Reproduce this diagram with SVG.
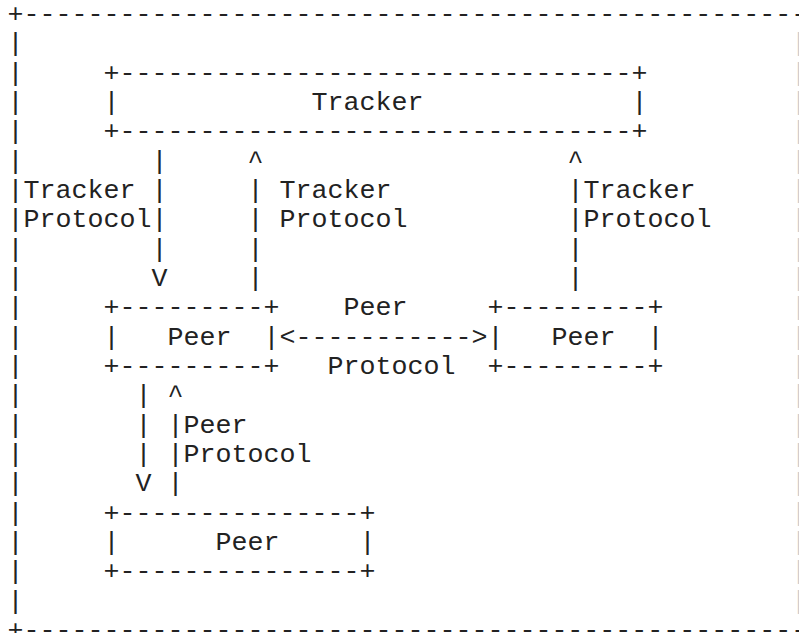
<svg xmlns="http://www.w3.org/2000/svg" width="799" height="633" viewBox="0 0 799 633">
<style>
text{font-family:"Liberation Mono","Courier New",monospace;font-size:26.667px;fill:#222;white-space:pre}
.edge{fill:#ccc}
</style>
<rect width="799" height="633" fill="#fff"/>
<g id="frame">
<text x="7.5" y="22">+-------------------------------------------------+</text>
<text x="7.5" y="638">+-------------------------------------------------+</text>
<text><tspan x="7.5" y="51.33">|</tspan><tspan x="7.5" y="80.67">|</tspan><tspan x="7.5" y="110">|</tspan><tspan x="7.5" y="139.33">|</tspan><tspan x="7.5" y="168.67">|</tspan><tspan x="7.5" y="198">|</tspan><tspan x="7.5" y="227.33">|</tspan><tspan x="7.5" y="256.67">|</tspan><tspan x="7.5" y="286">|</tspan><tspan x="7.5" y="315.33">|</tspan><tspan x="7.5" y="344.67">|</tspan><tspan x="7.5" y="374">|</tspan><tspan x="7.5" y="403.33">|</tspan><tspan x="7.5" y="432.67">|</tspan><tspan x="7.5" y="462">|</tspan><tspan x="7.5" y="491.33">|</tspan><tspan x="7.5" y="520.67">|</tspan><tspan x="7.5" y="550">|</tspan><tspan x="7.5" y="579.33">|</tspan><tspan x="7.5" y="608.67">|</tspan></text>
<text class="edge"><tspan x="791" y="51.33">|</tspan><tspan x="791" y="80.67">|</tspan><tspan x="791" y="110">|</tspan><tspan x="791" y="139.33">|</tspan><tspan x="791" y="168.67">|</tspan><tspan x="791" y="198">|</tspan><tspan x="791" y="227.33">|</tspan><tspan x="791" y="256.67">|</tspan><tspan x="791" y="286">|</tspan><tspan x="791" y="315.33">|</tspan><tspan x="791" y="344.67">|</tspan><tspan x="791" y="374">|</tspan><tspan x="791" y="403.33">|</tspan><tspan x="791" y="432.67">|</tspan><tspan x="791" y="462">|</tspan><tspan x="791" y="491.33">|</tspan><tspan x="791" y="520.67">|</tspan><tspan x="791" y="550">|</tspan><tspan x="791" y="579.33">|</tspan><tspan x="791" y="608.67">|</tspan></text>
</g>
<g id="tracker">
<text x="103.5" y="80.67">+--------------------------------+</text>
<text x="103.5" y="110">|</text>
<text x="311.5" y="110">Tracker</text>
<text x="631.5" y="110">|</text>
<text x="103.5" y="139.33">+--------------------------------+</text>
</g>
<g id="peer-a">
<text x="103.5" y="315.33">+---------+</text>
<text x="103.5" y="344.67">|</text>
<text x="167.5" y="344.67">Peer</text>
<text x="263.5" y="344.67">|</text>
<text x="103.5" y="374">+---------+</text>
</g>
<g id="peer-b">
<text x="487.5" y="315.33">+---------+</text>
<text x="487.5" y="344.67">|</text>
<text x="551.5" y="344.67">Peer</text>
<text x="647.5" y="344.67">|</text>
<text x="487.5" y="374">+---------+</text>
</g>
<g id="peer-c">
<text x="103.5" y="520.67">+---------------+</text>
<text x="103.5" y="550">|</text>
<text x="215.5" y="550">Peer</text>
<text x="359.5" y="550">|</text>
<text x="103.5" y="579.33">+---------------+</text>
</g>
<g id="connectors">
<g id="tracker-to-peer-a">
<text><tspan x="151.5" y="168.67">|</tspan><tspan x="151.5" y="198">|</tspan><tspan x="151.5" y="227.33">|</tspan><tspan x="151.5" y="256.67">|</tspan><tspan x="151.5" y="286">V</tspan></text>
<text x="23.5" y="198">Tracker</text>
<text x="23.5" y="227.33">Protocol</text>
</g>
<g id="peer-a-to-tracker">
<text><tspan x="247.5" y="168.67">^</tspan><tspan x="247.5" y="198">|</tspan><tspan x="247.5" y="227.33">|</tspan><tspan x="247.5" y="256.67">|</tspan><tspan x="247.5" y="286">|</tspan></text>
<text x="279.5" y="198">Tracker</text>
<text x="279.5" y="227.33">Protocol</text>
</g>
<g id="peer-b-to-tracker">
<text><tspan x="567.5" y="168.67">^</tspan><tspan x="567.5" y="198">|</tspan><tspan x="567.5" y="227.33">|</tspan><tspan x="567.5" y="256.67">|</tspan><tspan x="567.5" y="286">|</tspan></text>
<text x="583.5" y="198">Tracker</text>
<text x="583.5" y="227.33">Protocol</text>
</g>
<g id="peer-a-peer-b">
<text x="279.5" y="344.67">&lt;-----------&gt;</text>
<text x="343.5" y="315.33">Peer</text>
<text x="327.5" y="374">Protocol</text>
</g>
<g id="peer-a-to-peer-c">
<text><tspan x="135.5" y="403.33">|</tspan><tspan x="135.5" y="432.67">|</tspan><tspan x="135.5" y="462">|</tspan><tspan x="135.5" y="491.33">V</tspan></text>
</g>
<g id="peer-c-to-peer-a">
<text><tspan x="167.5" y="403.33">^</tspan><tspan x="167.5" y="432.67">|</tspan><tspan x="167.5" y="462">|</tspan><tspan x="167.5" y="491.33">|</tspan></text>
<text x="183.5" y="432.67">Peer</text>
<text x="183.5" y="462">Protocol</text>
</g>
</g>
</svg>
